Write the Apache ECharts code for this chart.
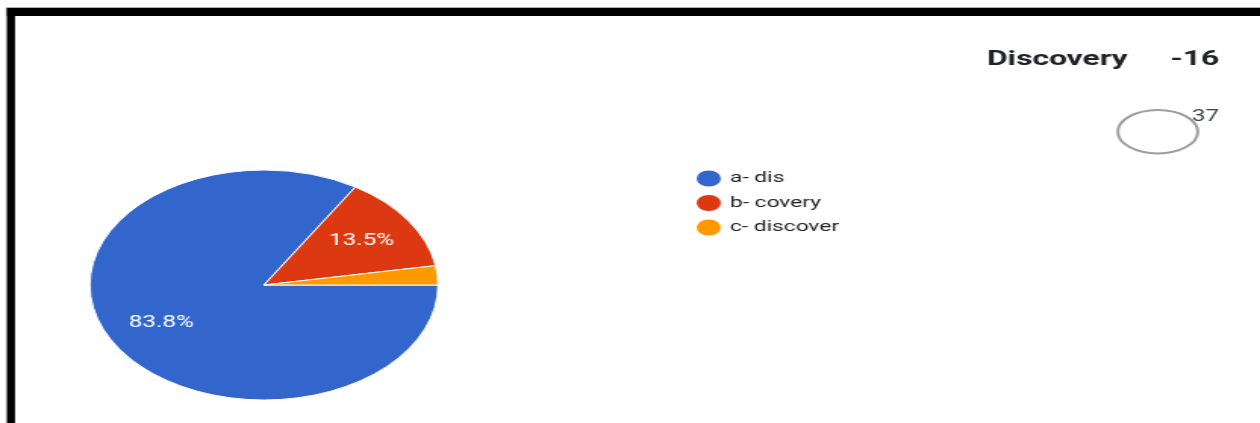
<!DOCTYPE html>
<html><head><meta charset="utf-8">
<script src="https://cdn.jsdelivr.net/npm/echarts/dist/echarts.min.js"></script>
<style>
html,body{margin:0;padding:0;background:#fff;overflow:hidden;}
#wrap{width:1260px;height:423px;overflow:hidden;position:relative;background:#fff;}
#chart{width:832px;height:423px;transform:scaleX(1.514423);transform-origin:0 0;}
</style></head><body>
<div id="wrap"><div id="chart"></div></div>
<script>
// ---- data ----
const categories = ['a- dis', 'b- covery', 'c- discover'];
const counts = [31, 5, 1];
const colors = ['#3366cc', '#dc3912', '#ff9900'];
const labelShown = [true, true, false];
const titleText = 'Discovery';
const titleNumber = '-16';
const responseCount = '37';

// ---- chart ----
const FONT = 'Roboto, Arial, sans-serif';
const R = 115;
const CENTER = [174.3, 285];

const chart = echarts.init(document.getElementById('chart'), null, {renderer: 'canvas'});

const baseData = categories.map((n, i) => ({name: n, value: counts[i], itemStyle: {color: colors[i]}}));
const labelData = categories.map((n, i) => ({name: n, value: counts[i], label: {show: labelShown[i]}}));

chart.setOption({
  animation: false,
  backgroundColor: '#ffffff',
  legend: {
    orient: 'vertical',
    left: 458, top: 168.5,
    padding: 0,
    icon: 'circle',
    itemWidth: 18, itemHeight: 18, itemGap: 4.5,
    selectedMode: false,
    textStyle: {fontFamily: FONT, fontSize: 15, color: '#222222'},
    data: categories.map((n, i) => ({name: n, itemStyle: {color: colors[i]}}))
  },
  series: [
    {
      type: 'pie', center: CENTER, radius: [0, R],
      startAngle: 0, clockwise: true, silent: true,
      label: {show: false}, labelLine: {show: false},
      emphasis: {disabled: true},
      itemStyle: {borderColor: '#ffffff', borderWidth: 1},
      data: baseData
    },
    {
      type: 'pie', center: CENTER, radius: [R * 0.3, R],
      startAngle: 0, clockwise: true, silent: true,
      percentPrecision: 1,
      itemStyle: {color: 'rgba(0,0,0,0)', borderWidth: 0},
      label: {show: true, position: 'inside', formatter: '{d}%', color: '#ffffff',
              fontFamily: FONT, fontSize: 16},
      labelLine: {show: false},
      emphasis: {disabled: true},
      data: labelData
    }
  ],
  graphic: [
    {type: 'rect', shape: {x: 4.0, y: 7, width: 840, height: 1}, style: {fill: '#b0b0b0'}, silent: true},
    {type: 'rect', shape: {x: 3.9, y: 7, width: 0.8, height: 420}, style: {fill: '#b0b0b0'}, silent: true},
    {type: 'rect', shape: {x: 4.62, y: 8, width: 840, height: 8}, style: {fill: '#000000'}, silent: true},
    {type: 'rect', shape: {x: 4.62, y: 8, width: 5.28, height: 420}, style: {fill: '#000000'}, silent: true},
    {type: 'text', x: 651.7, y: 60, silent: true,
     style: {text: titleText, font: 'bold 21px ' + FONT, fill: '#202124', verticalAlign: 'middle'}},
    {type: 'text', x: 772.8, y: 60, silent: true,
     style: {text: titleNumber, font: 'bold 21px ' + FONT, fill: '#202124', verticalAlign: 'middle'}},
    {type: 'text', x: 787.1, y: 116.5, silent: true,
     style: {text: responseCount, font: '16px ' + FONT, fill: '#3c4043', verticalAlign: 'middle'}},
    {type: 'ellipse', shape: {cx: 764.5, cy: 131.7, rx: 26.4, ry: 21.7}, silent: true,
     style: {fill: 'none', stroke: '#9e9e9e', lineWidth: 2}}
  ]
});
</script>
</body></html>
